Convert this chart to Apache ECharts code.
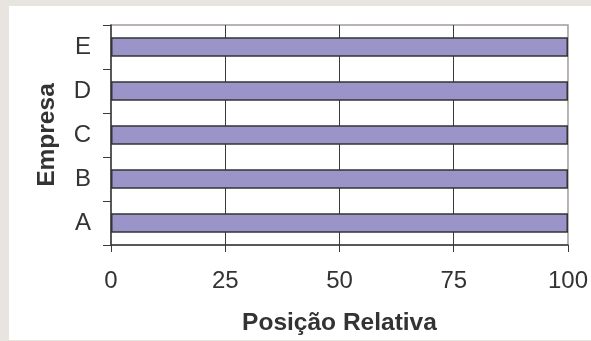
<!DOCTYPE html>
<html>
<head>
<meta charset="utf-8">
<script src="https://cdn.jsdelivr.net/npm/echarts@6/dist/echarts.min.js"></script>
<style>
  html, body { margin: 0; padding: 0; background: #e8e4e0; }
  #chart { width: 591px; height: 341px; }
</style>
</head>
<body>
<div id="chart"></div>
<script>
// Relative position of each company (0–100 scale)
const empresas = ['A', 'B', 'C', 'D', 'E'];
const posicao = [100, 100, 100, 100, 100];
const xTicks = { min: 0, max: 100, interval: 25 };

const FONT = '"Liberation Sans", Arial, Helvetica, sans-serif';
const TEXT = '#333333';

const chart = echarts.init(document.getElementById('chart'), null, { renderer: 'canvas' });

chart.setOption({
  backgroundColor: '#e8e4e0',
  animation: false,
  graphic: [{
    type: 'rect',
    z: -10,
    shape: { x: 9, y: 6, width: 582, height: 334 },
    style: { fill: '#ffffff' }
  }],
  grid: {
    left: 111, right: 23, top: 25, bottom: 94,
    show: true,
    borderColor: '#a39b98',
    borderWidth: 1.5,
    backgroundColor: 'transparent'
  },
  xAxis: {
    type: 'value',
    min: xTicks.min,
    max: xTicks.max,
    interval: xTicks.interval,
    name: 'Posição Relativa',
    nameLocation: 'middle',
    nameGap: 66,
    nameTextStyle: { fontFamily: FONT, fontSize: 24.5, fontWeight: 'bold', color: TEXT },
    axisLine: { show: true, lineStyle: { color: '#3a3a3a', width: 1.5 } },
    axisTick: { show: true, inside: false, length: 7, lineStyle: { color: '#3a3a3a', width: 1 } },
    axisLabel: { fontFamily: FONT, fontSize: 24, color: TEXT, margin: 24 },
    splitLine: { show: true, showMinLine: false, showMaxLine: false, lineStyle: { color: '#3a3a3a', width: 1 } }
  },
  yAxis: {
    type: 'category',
    data: empresas,
    name: 'Empresa',
    nameLocation: 'middle',
    nameGap: 51,
    nameTextStyle: { fontFamily: FONT, fontSize: 24.5, fontWeight: 'bold', color: TEXT },
    axisLine: { show: true, lineStyle: { color: '#3a3a3a', width: 1.5 } },
    axisTick: { show: true, inside: false, length: 8, lineStyle: { color: '#3a3a3a', width: 1 } },
    axisLabel: { fontFamily: FONT, fontSize: 24, color: TEXT, margin: 20 },
    splitLine: { show: false }
  },
  series: [{
    type: 'bar',
    data: posicao,
    barWidth: '44%',
    itemStyle: { color: '#9b94c8', borderColor: '#333333', borderWidth: 1.5 }
  }]
});
</script>
</body>
</html>
